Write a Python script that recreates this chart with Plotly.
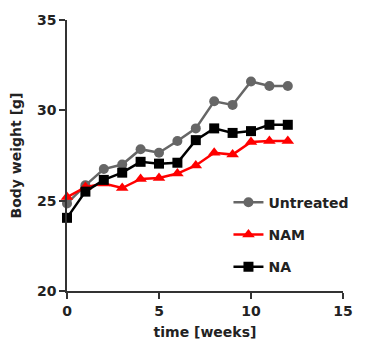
import plotly.graph_objects as go

weeks = [0, 1, 2, 3, 4, 5, 6, 7, 8, 9, 10, 11, 12]
untreated = [24.85, 25.85, 26.75, 27.0, 27.85, 27.65, 28.3, 29.0, 30.5, 30.3, 31.6, 31.35, 31.35]
nam = [25.2, 25.75, 25.95, 25.7, 26.2, 26.25, 26.5, 26.95, 27.65, 27.55, 28.25, 28.3, 28.3]
na = [24.05, 25.5, 26.15, 26.55, 27.15, 27.05, 27.1, 28.35, 29.0, 28.75, 28.85, 29.2, 29.2]

series = [
    ("Untreated", untreated, "#666666", "circle"),
    ("NAM", nam, "#ff0000", "triangle-up"),
    ("NA", na, "#000000", "square"),
]

fig = go.Figure()
for i, (name, vals, col, sym) in enumerate(series):
    fig.add_trace(go.Scatter(
        x=weeks, y=vals, name=name, mode="lines+markers",
        line=dict(color=col, width=2.5),
        marker=dict(color=col, symbol=sym, size=10 if sym != "triangle-up" else 11),
        cliponaxis=False, legendgroup=str(i),
    ))

font = dict(family="DejaVu Sans, Arial, sans-serif", size=14, color="#222222", weight="bold")
fig.update_layout(
    width=374, height=355,
    margin=dict(l=67, r=31, t=15, b=64),
    paper_bgcolor="white", plot_bgcolor="white",
    font=font,
    showlegend=True,
    legend=dict(x=0.585, y=0.385, xanchor="left", yanchor="top",
                bgcolor="rgba(0,0,0,0)", tracegroupgap=11,
                font=font),
    xaxis=dict(range=[0, 15], tickvals=[0, 5, 10, 15], showline=True, linecolor="#333333",
               linewidth=1.5, ticks="outside", ticklen=6, tickwidth=1.5, tickcolor="#333333",
               showgrid=False, zeroline=False,
               title=dict(text="time [weeks]", font=font, standoff=10)),
    yaxis=dict(range=[20, 35], tickvals=[20, 25, 30, 35], showline=True, linecolor="#333333",
               linewidth=1.5, ticks="outside", ticklen=6, tickwidth=1.5, tickcolor="#333333",
               showgrid=False, zeroline=False,
               title=dict(text="Body weight [g]", font=font, standoff=12)),
)
fig.write_html("out.html")
